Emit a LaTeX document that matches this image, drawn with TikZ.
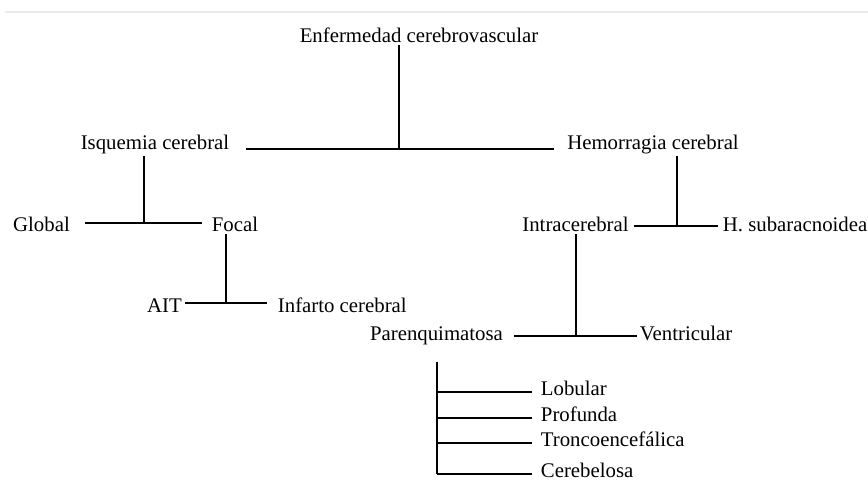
\documentclass[tikz,border=0pt]{standalone}
\usepackage{fontspec}
\setmainfont{Liberation Serif}
\usepackage{tikz}
\usetikzlibrary{calc,positioning}

\begin{document}
\begin{tikzpicture}[
    x=0.75pt, y=-0.75pt,
    % --- STYLES ---
    lbl/.style={
        font=\fontsize{15.6}{18}\selectfont,
        inner sep=2pt, anchor=base
    },
    link/.style={draw=black, line width=1.1pt}
]
\useasboundingbox (0,0) rectangle (868,487);

% faint rule at the top
\draw[black!8, line width=0.8pt] (5,12) -- (868,12);

% ===== 1. NODES =====
\node[lbl] (root) at (419,42) {Enfermedad cerebrovascular};

\node[lbl] (isq) at (155,149) {Isquemia cerebral};
\node[lbl] (hem) at (653,149) {Hemorragia cerebral};

% Isquemia
\node[lbl] (glob) at (41.5,231) {Global};
\node[lbl] (foc) at (235,231) {Focal};
\node[lbl] (ait) at (164.5,312) {AIT};
\node[lbl, anchor=base west] (inf) at (275,312) {Infarto cerebral};

% Hemorragia
\node[lbl] (intra) at (575.5,231) {Intracerebral};
\node[lbl, anchor=base west] (hsub) at (720,231) {H. subaracnoidea};
\node[lbl] (par) at (436.5,340) {Parenquimatosa};
\node[lbl, anchor=base west] (vent) at (637,340) {Ventricular};

% Parenquimatosa
\node[lbl, anchor=base west] (lob) at (538,395) {Lobular};
\node[lbl, anchor=base west] (prof) at (538,421) {Profunda};
\node[lbl, anchor=base west] (tronco) at (538,446) {Troncoencefálica};
\node[lbl, anchor=base west] (cereb) at (538,477) {Cerebelosa};

% ===== 2. JUNCTIONS =====
\coordinate (rootJ) at (399,149);
\coordinate (isqJ) at (144,223);
\coordinate (hemJ) at (677,226);
\coordinate (focJ) at (226,303);
\coordinate (intraJ) at (576,336);
\coordinate (parJ) at (437,362);

% ===== 3. CONNECTIONS =====
\draw[link] (rootJ |- root.south) -- (rootJ);
\draw[link] ($(isq.base east)+(14,0)$) -- ($(hem.base west)+(-10,0)$);

\draw[link] (isqJ |- isq.south) -- (isqJ);
\draw[link] ($(glob.east |- isqJ)+(12,0)$) -- ($(foc.west |- isqJ)+(-7,0)$);

\draw[link] (focJ |- foc.south) -- (focJ);
\draw[link] (ait.east |- focJ) -- ($(inf.west |- focJ)+(-8,0)$);

\draw[link] (hemJ |- hem.south) -- (hemJ);
\draw[link] ($(intra.east |- hemJ)+(2,0)$) -- ($(hsub.west |- hemJ)+(-2,0)$);

\draw[link] (intraJ |- intra.south) -- (intraJ);
\draw[link] ($(par.east |- intraJ)+(8,0)$) -- (vent.west |- intraJ);

% list under Parenquimatosa
\draw[link] (parJ) -- (parJ |- cereb.mid);
\draw[link] (parJ |- lob.mid) -- ($(lob.mid west)+(-6,0)$);
\draw[link] (parJ |- prof.mid) -- ($(prof.mid west)+(-6,0)$);
\draw[link] (parJ |- tronco.mid) -- ($(tronco.mid west)+(-6,0)$);
\draw[link] (parJ |- cereb.mid) -- ($(cereb.mid west)+(-6,0)$);

\end{tikzpicture}
\end{document}
